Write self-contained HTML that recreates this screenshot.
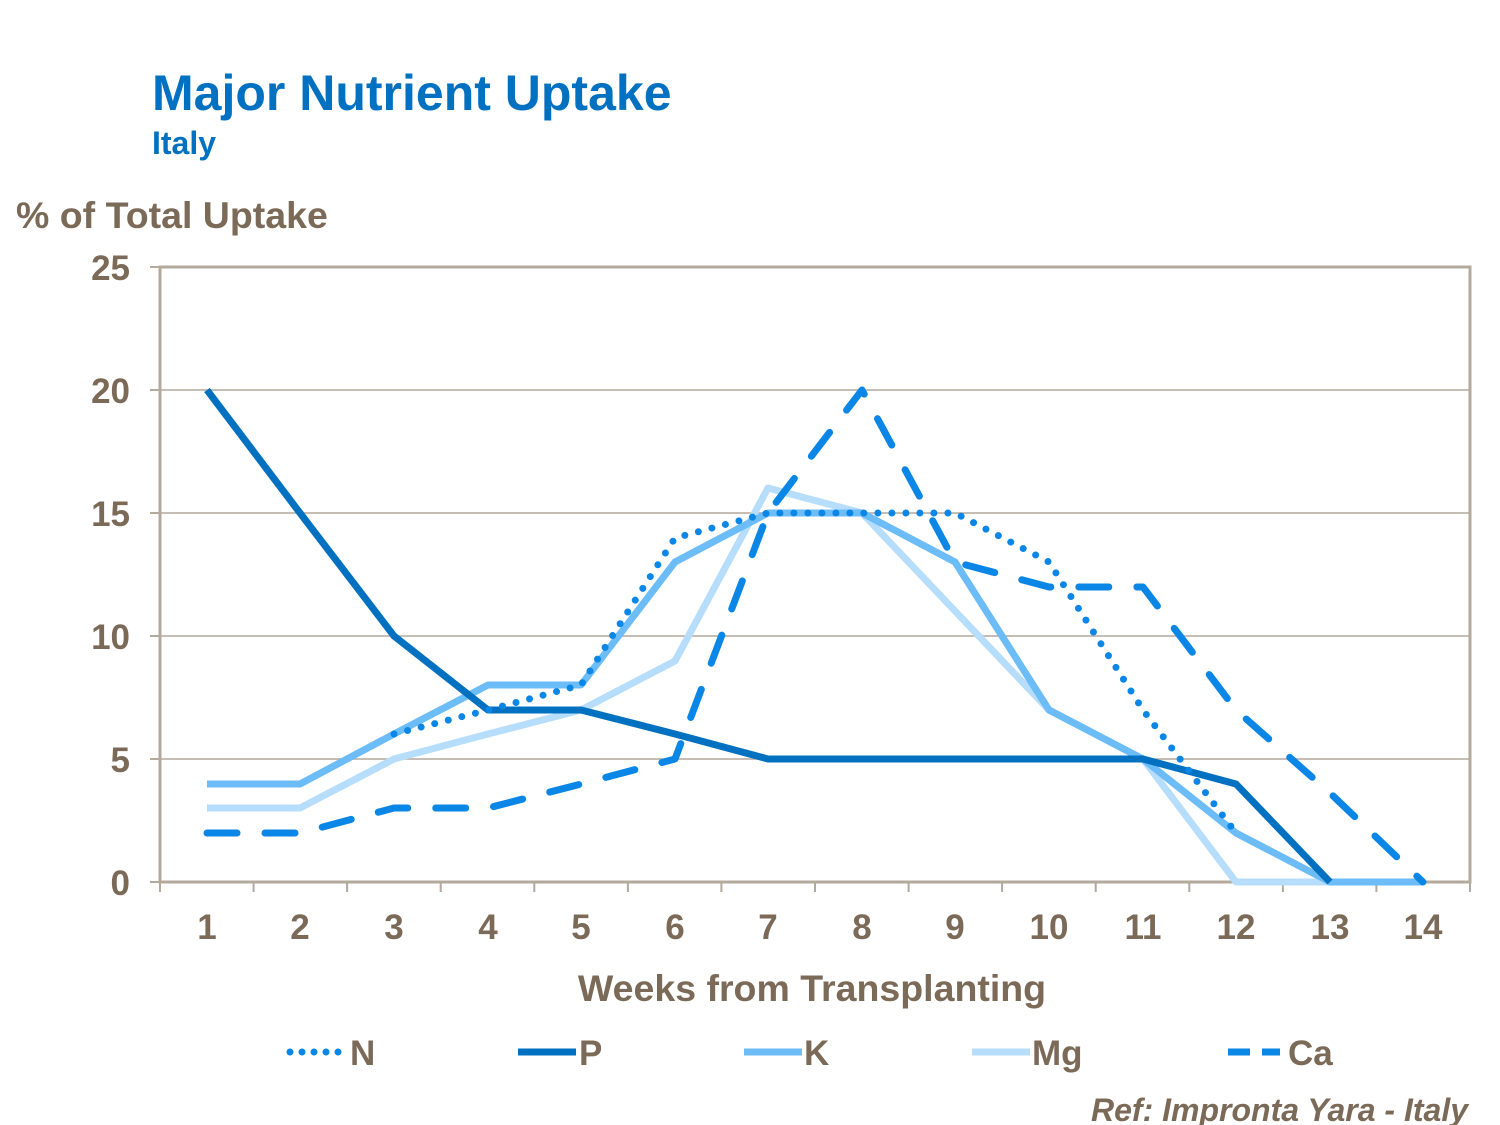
<!DOCTYPE html>
<html><head><style>body{margin:0;background:#fff}svg{display:block}</style></head><body>
<svg width="1500" height="1125" xmlns="http://www.w3.org/2000/svg" font-family="Liberation Sans, sans-serif" font-weight="bold">
<text x="152" y="110" font-size="50" fill="#0070c0">Major Nutrient Uptake</text>
<text x="152" y="154" font-size="32" fill="#0070c0">Italy</text>
<text x="16" y="228" font-size="37.5" fill="#7b6a58">% of Total Uptake</text>
<g stroke="#b3a99c" stroke-width="1.5">
<line x1="160" y1="390" x2="1470" y2="390"/><line x1="160" y1="513" x2="1470" y2="513"/>
<line x1="160" y1="636" x2="1470" y2="636"/><line x1="160" y1="759" x2="1470" y2="759"/>
</g>
<rect x="160" y="267" width="1310" height="615" fill="none" stroke="#b3a99c" stroke-width="3"/>
<g stroke="#b3a99c" stroke-width="2">
<line x1="150" y1="267" x2="160" y2="267"/><line x1="150" y1="390" x2="160" y2="390"/><line x1="150" y1="513" x2="160" y2="513"/><line x1="150" y1="636" x2="160" y2="636"/><line x1="150" y1="759" x2="160" y2="759"/><line x1="150" y1="882" x2="160" y2="882"/>
<path d="M160 882v10M253.6 882v10M347.1 882v10M440.7 882v10M534.3 882v10M627.9 882v10M721.4 882v10M815 882v10M908.6 882v10M1002.1 882v10M1095.7 882v10M1189.3 882v10M1282.9 882v10M1376.4 882v10M1470 882v10"/>
</g>
<g font-size="35" fill="#7b6a58" text-anchor="end">
<text x="130" y="280">25</text><text x="130" y="403">20</text><text x="130" y="526">15</text><text x="130" y="649">10</text><text x="130" y="772">5</text><text x="130" y="895">0</text>
</g>
<g font-size="35" fill="#7b6a58" text-anchor="middle">
<text x="207" y="939">1</text><text x="300" y="939">2</text><text x="394" y="939">3</text><text x="488" y="939">4</text><text x="581" y="939">5</text><text x="675" y="939">6</text><text x="768" y="939">7</text><text x="862" y="939">8</text><text x="955" y="939">9</text><text x="1049" y="939">10</text><text x="1143" y="939">11</text><text x="1236" y="939">12</text><text x="1330" y="939">13</text><text x="1423" y="939">14</text>
<text x="812" y="1001" font-size="37.5">Weeks from Transplanting</text>
</g>
<g fill="none" stroke-width="7" stroke-linejoin="round">
<polyline stroke="#b6defc" points="207,808 300,808 394,759 488,734 581,710 675,661 768,488 862,513 955,611 1049,710 1143,759 1236,882 1330,882 1423,882"/>
<polyline stroke="#6cbcf8" points="207,784 300,784 394,734 488,685 581,685 675,562 768,513 862,513 955,562 1049,710 1143,759 1236,833 1330,882 1423,882"/>
<polyline stroke="#0070c0" points="207,390 300,513 394,636 488,710 581,710 675,734 768,759 862,759 955,759 1049,759 1143,759 1236,784 1330,882"/>
<polyline stroke="#0a86e6" stroke-dasharray="0 14" stroke-linecap="round" points="394,734 488,710 581,685 675,538 768,513 862,513 955,513 1049,562 1143,710 1236,833"/>
<polyline stroke="#0a86e6" stroke-dasharray="30 28" stroke-linecap="round" points="207,833 300,833 394,808 488,808 581,784 675,759 768,513 862,390 955,562 1049,587 1143,587 1236,710 1330,793 1423,882"/>
</g>
<g stroke-width="7" fill="none">
<line x1="290" y1="1052" x2="342" y2="1052" stroke="#0a86e6" stroke-dasharray="0 12" stroke-linecap="round"/>
<line x1="518" y1="1052" x2="576" y2="1052" stroke="#0070c0"/>
<line x1="744" y1="1052" x2="802" y2="1052" stroke="#6cbcf8"/>
<line x1="972" y1="1052" x2="1030" y2="1052" stroke="#b6defc"/>
<line x1="1228" y1="1052" x2="1280" y2="1052" stroke="#0a86e6" stroke-dasharray="22 12"/>
</g>
<g font-size="35" fill="#7b6a58">
<text x="350" y="1065">N</text><text x="579" y="1065">P</text><text x="804" y="1065">K</text><text x="1032" y="1065">Mg</text><text x="1288" y="1065">Ca</text>
</g>
<text x="1468" y="1121" font-size="32" font-style="italic" fill="#7b6a58" text-anchor="end">Ref: Impronta Yara - Italy</text>
</svg>
</body></html>
